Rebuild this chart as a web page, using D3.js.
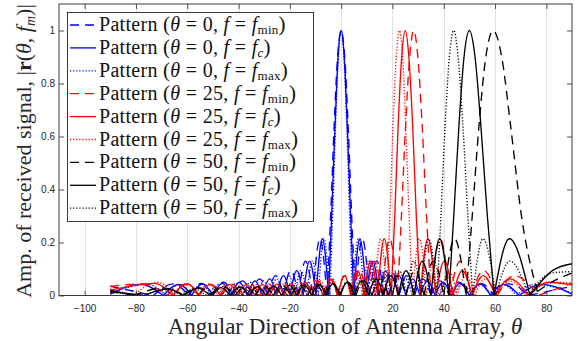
<!DOCTYPE html>
<html><head><meta charset="utf-8">
<script src="https://cdn.jsdelivr.net/npm/d3@7"></script>
<style>
body{margin:0;background:#fff;}
svg{display:block;}
</style></head><body>
<svg id="chart" width="580" height="341"></svg>
<script>
// ---------- data ----------
const xTicks = [-100,-80,-60,-40,-20,0,20,40,60,80];
const yTicks = [0,0.2,0.4,0.6,0.8,1];
const yTickLabels = ["0","0.2","0.4","0.6","0.8","1"];
const legendTheta = ["0","0","0","25","25","25","50","50","50"];
const legendSub = ["min","c","max","min","c","max","min","c","max"];

const blueMin = [[-90,0.035],[-73.2,0],[-65.4,0.044],[-59.5,0],[-54.5,0.046],[-50.0,0],[-45.9,0.05],[-42.1,0],[-38.5,0.055],[-35.0,0],[-31.8,0.063],[-28.6,0],[-25.5,0.075],[-22.5,0],[-19.6,0.094],[-16.7,0],[-13.9,0.13],[-11.0,0],[-8.3,0.214],[-5.5,0],[-4.1,0.3],[-2.75,0.637],[-1.4,0.9],[0,1],[1.4,0.9],[2.75,0.637],[4.1,0.3],[5.5,0],[8.3,0.214],[11.0,0],[13.9,0.13],[16.7,0],[19.6,0.094],[22.5,0],[25.5,0.075],[28.6,0],[31.8,0.063],[35.0,0],[38.5,0.055],[42.1,0],[45.9,0.05],[50.0,0],[54.5,0.046],[59.5,0],[65.4,0.044],[73.2,0],[90,0.035]];
const blueC = [[-90,0.005],[-78.2,0.042],[-69.4,0],[-63.3,0.042],[-58.3,0],[-54.0,0.044],[-50.0,0],[-46.3,0.046],[-42.9,0],[-39.7,0.05],[-36.6,0],[-33.6,0.055],[-30.7,0],[-27.9,0.063],[-25.2,0],[-22.5,0.075],[-19.9,0],[-17.3,0.094],[-14.8,0],[-12.3,0.13],[-9.8,0],[-7.3,0.214],[-4.9,0],[-3.7,0.3],[-2.4,0.637],[-1.2,0.9],[0,1],[1.2,0.9],[2.4,0.637],[3.7,0.3],[4.9,0],[7.3,0.214],[9.8,0],[12.3,0.13],[14.8,0],[17.3,0.094],[19.9,0],[22.5,0.075],[25.2,0],[27.9,0.063],[30.7,0],[33.6,0.055],[36.6,0],[39.7,0.05],[42.9,0],[46.3,0.046],[50.0,0],[54.0,0.044],[58.3,0],[63.3,0.042],[69.4,0],[78.2,0.042],[90,0.005]];
const blueMax = [[-90,0.01],[-75.4,0.042],[-68.3,0],[-62.9,0.042],[-58.4,0],[-54.4,0.042],[-50.7,0],[-47.3,0.044],[-44.1,0],[-41.1,0.046],[-38.3,0],[-35.5,0.05],[-32.8,0],[-30.2,0.055],[-27.7,0],[-25.2,0.063],[-22.8,0],[-20.4,0.075],[-18.0,0],[-15.7,0.094],[-13.4,0],[-11.2,0.13],[-8.9,0],[-6.7,0.214],[-4.4,0],[-3.3,0.3],[-2.2,0.637],[-1.1,0.9],[0,1],[1.1,0.9],[2.2,0.637],[3.3,0.3],[4.4,0],[6.7,0.214],[8.9,0],[11.2,0.13],[13.4,0],[15.7,0.094],[18.0,0],[20.4,0.075],[22.8,0],[25.2,0.063],[27.7,0],[30.2,0.055],[32.8,0],[35.5,0.05],[38.3,0],[41.1,0.046],[44.1,0],[47.3,0.044],[50.7,0],[54.4,0.042],[58.4,0],[62.9,0.042],[68.3,0],[75.4,0.042],[90,0.01]];
const redMin = [[-90,0.034],[-77.5,0.044],[-67.8,0],[-61.1,0.042],[-55.7,0],[-50.9,0.042],[-46.6,0],[-42.5,0.042],[-38.8,0],[-35.2,0.042],[-31.7,0],[-28.4,0.044],[-25.2,0],[-22.1,0.046],[-19.0,0],[-16.0,0.05],[-13.1,0],[-10.1,0.055],[-7.2,0],[-4.4,0.063],[-1.5,0],[1.4,0.075],[4.2,0],[7.1,0.094],[10.0,0],[12.9,0.13],[15.9,0],[18.9,0.214],[22.0,0],[23.5,0.3],[25.1,0.637],[26.7,0.9],[28.3,1],[29.9,0.9],[31.6,0.637],[33.3,0.3],[35.0,0],[38.6,0.214],[42.4,0],[46.4,0.13],[50.7,0],[55.5,0.094],[60.9,0],[67.5,0.075],[77.0,0],[90,0.046]];
const redC = [[-90,0.02],[-72.8,0.046],[-65.6,0],[-60.1,0.044],[-55.3,0],[-51.0,0.042],[-47.2,0],[-43.5,0.042],[-40.1,0],[-36.9,0.042],[-33.7,0],[-30.7,0.042],[-27.8,0],[-25.0,0.044],[-22.2,0],[-19.5,0.046],[-16.8,0],[-14.1,0.05],[-11.5,0],[-8.9,0.055],[-6.4,0],[-3.8,0.063],[-1.3,0],[1.3,0.075],[3.8,0],[6.4,0.094],[9.0,0],[11.6,0.13],[14.2,0],[16.8,0.214],[19.5,0],[20.9,0.3],[22.2,0.637],[23.6,0.9],[25,1],[26.4,0.9],[27.9,0.637],[29.3,0.3],[30.8,0],[33.8,0.214],[36.9,0],[40.2,0.13],[43.6,0],[47.2,0.094],[51.1,0],[55.4,0.075],[60.1,0],[65.7,0.063],[73.0,0],[81,0.05],[90,0.04]];
const redMax = [[-90,0.025],[-81.1,0],[-71.3,0.05],[-65.1,0],[-60.1,0.046],[-55.7,0],[-51.8,0.044],[-48.2,0],[-44.8,0.042],[-41.6,0],[-38.6,0.042],[-35.7,0],[-32.9,0.042],[-30.2,0],[-27.6,0.042],[-25.0,0],[-22.4,0.044],[-20.0,0],[-17.5,0.046],[-15.1,0],[-12.7,0.05],[-10.4,0],[-8.0,0.055],[-5.7,0],[-3.4,0.063],[-1.0,0],[1.3,0.075],[3.6,0],[5.9,0.094],[8.3,0],[10.6,0.13],[13.0,0],[15.4,0.214],[17.8,0],[19.0,0.3],[20.2,0.637],[21.5,0.9],[22.7,1],[24.0,0.9],[25.2,0.637],[26.5,0.3],[27.8,0],[30.5,0.214],[33.2,0],[36.0,0.13],[38.9,0],[42.0,0.094],[45.2,0],[48.6,0.075],[52.2,0],[56.1,0.063],[60.6,0],[65.7,0.055],[72.1,0],[82.8,0.05],[90,0.048]];
const blackMin = [[-90,0.02],[-81.2,0],[-69.0,0.028],[-61.5,0],[-55.6,0.03],[-50.4,0],[-45.7,0.032],[-41.4,0],[-37.4,0.033],[-33.6,0],[-29.9,0.035],[-26.4,0],[-23.0,0.038],[-19.6,0],[-16.3,0.04],[-13.1,0],[-9.9,0.042],[-6.8,0],[-3.7,0.046],[-0.6,0],[2.6,0.05],[5.7,0],[8.8,0.055],[12.0,0],[15.2,0.063],[18.5,0],[21.8,0.075],[25.2,0],[28.7,0.094],[32.3,0],[36.0,0.13],[40.0,0],[44.2,0.214],[48.7,0],[51.1,0.3],[53.7,0.637],[56.4,0.9],[59.3,1],[62.6,0.9],[66.1,0.637],[70.3,0.3],[76.5,0.015],[83,0.055],[90,0.085]];
const blackC = [[-90,0.015],[-76.7,0],[-67.6,0.025],[-61.2,0],[-55.9,0.028],[-51.2,0],[-47.0,0.03],[-43.1,0],[-39.4,0.032],[-35.9,0],[-32.6,0.033],[-29.3,0],[-26.2,0.035],[-23.2,0],[-20.2,0.038],[-17.3,0],[-14.4,0.04],[-11.5,0],[-8.7,0.042],[-5.9,0],[-3.2,0.046],[-0.4,0],[2.4,0.05],[5.2,0],[7.9,0.055],[10.7,0],[13.6,0.063],[16.4,0],[19.4,0.075],[22.3,0],[25.3,0.094],[28.4,0],[31.6,0.13],[35.0,0],[38.4,0.214],[42.0,0],[43.9,0.3],[45.9,0.637],[47.9,0.9],[50,1],[52.2,0.9],[54.5,0.637],[57.0,0.3],[59.6,0],[65.6,0.214],[73.6,0],[82.5,0.095],[90,0.12]];
const blackMax = [[-90,0.012],[-76.8,0],[-68.3,0.022],[-62.4,0],[-57.3,0.025],[-52.9,0],[-49.0,0.028],[-45.3,0],[-41.8,0.03],[-38.5,0],[-35.4,0.032],[-32.3,0],[-29.4,0.033],[-26.6,0],[-23.8,0.035],[-21.1,0],[-18.4,0.038],[-15.8,0],[-13.2,0.04],[-10.6,0],[-8.1,0.042],[-5.5,0],[-3.0,0.046],[-0.5,0],[2.0,0.05],[4.5,0],[7.1,0.055],[9.6,0],[12.2,0.063],[14.7,0],[17.4,0.075],[20.0,0],[22.7,0.094],[25.5,0],[28.3,0.13],[31.2,0],[34.2,0.214],[37.3,0],[38.9,0.3],[40.5,0.637],[42.2,0.9],[43.9,1],[45.6,0.9],[47.5,0.637],[49.4,0.3],[51.3,0],[55.3,0.214],[60.3,0],[65.8,0.13],[73.0,0],[82,0.085],[90,0.09]];

const seriesData = [blueMin, blueC, blueMax, redMin, redC, redMax, blackMin, blackC, blackMax];

// ---------- styles ----------
const seriesColors = ["#0000ff","#0000ff","#0000ff","#ff0000","#ff0000","#ff0000","#000000","#000000","#000000"];
const seriesDash = ["9,6",null,"1.2,1.9","9,6",null,"1.2,1.9","9,6",null,"1.2,1.9"];

// ---------- layout ----------
const svg = d3.select("#chart");
const x = d3.scaleLinear().domain([-110,90]).range([59,572]);
const y = d3.scaleLinear().domain([0,1.1]).range([295.5,4]);
const axisColor = "#262626";
const tickFont = "'Liberation Sans', Arial, Helvetica, sans-serif";
const serifFont = "'Liberation Serif', 'Times New Roman', serif";

// grid
svg.append("g").selectAll("line").data(xTicks).join("line")
  .attr("x1", d => Math.round(x(d)) + 0.5).attr("x2", d => Math.round(x(d)) + 0.5)
  .attr("y1", y(0)).attr("y2", y(1.1))
  .attr("stroke", "#e2e2e2").attr("stroke-width", 1);

// clip
svg.append("clipPath").attr("id","plotclip").append("rect")
  .attr("x", x(-110)).attr("y", y(1.1)).attr("width", x(90)-x(-110)).attr("height", y(0)-y(1.1));

// lines: each lobe drawn as its own sub-path (sharp nulls)
const lobeLine = d3.line().x(d => x(d[0])).y(d => y(d[1])).curve(d3.curveMonotoneX);
function lobePath(data){
  const mins = [0];
  for (let i = 1; i < data.length - 1; i++) {
    if (data[i][1] <= data[i-1][1] && data[i][1] <= data[i+1][1]) mins.push(i);
  }
  mins.push(data.length - 1);
  let p = "";
  for (let j = 0; j < mins.length - 1; j++) p += lobeLine(data.slice(mins[j], mins[j+1] + 1));
  return p;
}
const lineG = svg.append("g").attr("clip-path","url(#plotclip)");
seriesData.forEach((data, i) => {
  lineG.append("path").attr("d", lobePath(data))
    .attr("fill","none").attr("stroke", seriesColors[i]).attr("stroke-width", 1.35)
    .attr("stroke-dasharray", seriesDash[i]).attr("stroke-linejoin","round");
});

// axes
function styleAxis(g){
  g.select(".domain").remove();
  g.selectAll(".tick line").attr("stroke", axisColor).attr("stroke-width", 0.8);
  g.selectAll(".tick text").attr("fill", axisColor).attr("font-family", tickFont).attr("font-size", 10);
}
svg.append("g").attr("transform", `translate(0,${y(0)})`)
  .call(d3.axisBottom(x).tickValues(xTicks).tickSizeInner(-5).tickSizeOuter(0).tickPadding(9)).call(styleAxis);
svg.append("g").attr("transform", `translate(0,${y(1.1)})`)
  .call(d3.axisTop(x).tickValues(xTicks).tickSizeInner(-5).tickSizeOuter(0).tickFormat(() => "")).call(styleAxis);
svg.append("g").attr("transform", `translate(${x(-110)},0)`)
  .call(d3.axisLeft(y).tickValues(yTicks).tickSizeInner(-5).tickSizeOuter(0).tickPadding(4)
    .tickFormat((d,i) => yTickLabels[i])).call(styleAxis);
svg.append("g").attr("transform", `translate(${x(90)},0)`)
  .call(d3.axisRight(y).tickValues(yTicks).tickSizeInner(-5).tickSizeOuter(0).tickFormat(() => "")).call(styleAxis);

// box
svg.append("rect").attr("x", x(-110)).attr("y", y(1.1))
  .attr("width", x(90)-x(-110)).attr("height", y(0)-y(1.1))
  .attr("fill","none").attr("stroke", axisColor).attr("stroke-width", 0.9);

// x label
const xl = svg.append("text").attr("x", 345).attr("y", 334).attr("text-anchor","middle")
  .attr("font-family", serifFont).attr("font-size", 23).attr("fill", axisColor);
xl.append("tspan").text("Angular Direction of Antenna Array, ");
xl.append("tspan").attr("font-style","italic").text("θ");

// y label
const yl = svg.append("text").attr("transform", "translate(31,151) rotate(-90)").attr("text-anchor","middle")
  .attr("font-family", serifFont).attr("font-size", 22).attr("fill", axisColor);
yl.append("tspan").text("Amp. of received signal, |");
yl.append("tspan").attr("font-weight","bold").text("r");
yl.append("tspan").text("(");
yl.append("tspan").attr("font-style","italic").text("θ");
yl.append("tspan").text(", ");
yl.append("tspan").attr("font-style","italic").text("f");
yl.append("tspan").attr("font-style","italic").attr("font-size",14).attr("dy",4).text("m");
yl.append("tspan").attr("dy",-4).text(")|");

// legend
const leg = svg.append("g");
leg.append("rect").attr("x",67.5).attr("y",12.5).attr("width",246).attr("height",209)
  .attr("fill","#fff").attr("stroke", axisColor).attr("stroke-width",0.9);
seriesData.forEach((data, i) => {
  const cy = 25 + i * 22.9;
  leg.append("line").attr("x1",70).attr("x2",96).attr("y1",cy).attr("y2",cy)
    .attr("stroke", seriesColors[i]).attr("stroke-width",1.3).attr("stroke-dasharray", seriesDash[i]);
  const t = leg.append("text").attr("x",99).attr("y",cy + 6)
    .attr("font-family", serifFont).attr("font-size",20).attr("letter-spacing",0.3).attr("fill","#111");
  t.append("tspan").text("Pattern ");
  t.append("tspan").attr("font-size",21).text("(");
  t.append("tspan").attr("font-style","italic").text("θ");
  t.append("tspan").text(" = " + legendTheta[i] + ", ");
  t.append("tspan").attr("font-style","italic").text("f");
  t.append("tspan").text(" = ");
  t.append("tspan").attr("font-style","italic").text("f");
  t.append("tspan").attr("font-size",13).attr("dy",3)
    .attr("font-style", legendSub[i] === "c" ? "italic" : "normal").text(legendSub[i]);
  t.append("tspan").attr("dy",-3).attr("font-size",21).text(")");
});
</script>
</body></html>
